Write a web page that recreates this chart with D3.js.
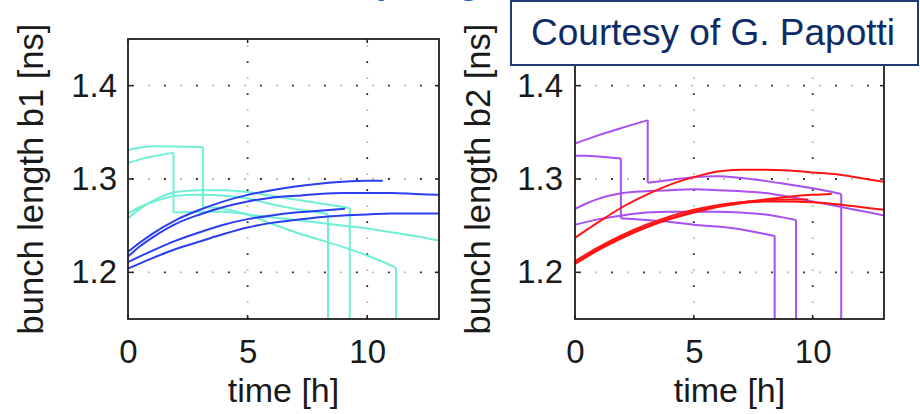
<!DOCTYPE html>
<html>
<head>
<meta charset="utf-8">
<script src="https://cdn.jsdelivr.net/npm/d3@7"></script>
<style>
  html, body { margin: 0; padding: 0; background: #fff; }
  svg { display: block; }
  text { font-family: "Liberation Sans", Arial, Helvetica, sans-serif; }
</style>
</head>
<body>
<svg id="chart" width="920" height="414"></svg>
<script>
// ---------- data (time [h], bunch length [ns]) ----------
const xTicks = [0, 5, 10];
const yTicks = [1.2, 1.3, 1.4];
const xDomain = [0, 13];
const yDomain = [1.15, 1.45];

const b1Cyan = [
  [[0,1.331],[0.6,1.334],[1.2,1.335],[3.13,1.334],[3.13,1.270],[4,1.268],[5,1.262],[6,1.252],[7,1.243],[8,1.235],[9,1.227],[10,1.218],[11.2,1.205],[11.2,1.10]],
  [[0,1.317],[0.5,1.321],[1,1.324],[1.9,1.328],[1.9,1.264],[3,1.265],[4,1.265],[5,1.262],[6,1.259],[7,1.256],[8,1.253],[9,1.250],[10,1.247],[11,1.243],[12,1.239],[13,1.234]],
  [[0,1.258],[0.5,1.268],[1,1.276],[1.5,1.282],[2,1.286],[3,1.288],[4,1.288],[5,1.286],[6,1.282],[7,1.278],[8,1.274],[9,1.270],[9.27,1.269],[9.27,1.10]],
  [[0,1.263],[0.5,1.270],[1,1.275],[1.5,1.279],[2,1.282],[3,1.283],[4,1.282],[5,1.279],[6,1.273],[7,1.268],[8,1.264],[8.36,1.262],[8.36,1.10]]
];
const b1Blue = [
  [[0,1.222],[0.5,1.232],[1,1.241],[2,1.256],[3,1.267],[4,1.276],[5,1.283],[6,1.288],[7,1.292],[8,1.295],[9,1.297],[10,1.298],[10.65,1.298]],
  [[0,1.217],[0.5,1.228],[1,1.237],[2,1.252],[3,1.262],[4,1.270],[5,1.276],[6,1.280],[7,1.282],[8,1.284],[9,1.285],[10,1.285],[11,1.285],[12,1.284],[13,1.283]],
  [[0,1.211],[1,1.223],[2,1.234],[3,1.243],[4,1.251],[5,1.257],[6,1.261],[7,1.264],[8,1.266],[9.07,1.268]],
  [[0,1.204],[1,1.215],[2,1.225],[3,1.233],[4,1.241],[5,1.248],[6,1.253],[7,1.256],[8,1.259],[9,1.261],[10,1.262],[11,1.263],[12,1.263],[13,1.263]]
];
const b2Purple = [
  [[0,1.338],[1,1.347],[2,1.355],[3.06,1.363],[3.06,1.296],[4,1.299],[5,1.302],[6,1.303],[7,1.301],[8,1.298],[9,1.294],[10,1.290],[11.2,1.284],[11.2,1.10]],
  [[0,1.325],[0.5,1.325],[1,1.324],[1.93,1.322],[1.93,1.258],[3,1.256],[4,1.254],[5,1.251],[6,1.249],[7,1.246],[8,1.241],[8.4,1.239],[8.4,1.10]],
  [[0,1.268],[0.5,1.274],[1,1.279],[2,1.285],[3,1.287],[4,1.288],[5,1.289],[6,1.288],[7,1.287],[8,1.285],[9,1.281],[10,1.276],[11,1.271],[12,1.266],[13,1.261]],
  [[0,1.251],[1,1.257],[2,1.261],[3,1.264],[4,1.265],[5,1.265],[6,1.265],[7,1.264],[8,1.262],[9.3,1.256],[9.3,1.10]]
];
const b2Red = [
  [[0,1.237],[1,1.254],[2,1.270],[3,1.283],[4,1.294],[5,1.302],[6,1.308],[7,1.310],[8,1.310],[9,1.309],[10,1.307],[11,1.305],[12,1.301],[13,1.297]],
  [[0,1.210],[1,1.225],[2,1.238],[3,1.249],[4,1.258],[5,1.265],[6,1.271],[7,1.275],[8,1.278],[9,1.281],[10,1.283],[10.8,1.284]],
  [[0,1.209],[1,1.224],[2,1.237],[3,1.248],[4,1.257],[5,1.264],[6,1.270],[7,1.274],[8,1.276],[9,1.276],[10,1.275],[11,1.273],[12,1.270],[13,1.267]],
  [[0,1.212],[1,1.227],[2,1.240],[3,1.251],[4,1.260],[5,1.267],[6,1.272],[7,1.275],[8,1.277],[9,1.278],[9.8,1.278]]
];
const yLabels = ["bunch length b1 [ns]", "bunch length b2 [ns]"];
const xLabel = "time [h]";
const courtesy = "Courtesy of G. Papotti";

// ---------- layout ----------
const svg = d3.select("#chart");
const plotTop = 39, plotBottom = 319;
const panels = [
  { left: 128, right: 439, label: yLabels[0], labelX: 43, pad: 11,
    groups: [{ data: b1Cyan, color: "#6ff0d6" }, { data: b1Blue, color: "#2a3ef0" }] },
  { left: 575, right: 884, label: yLabels[1], labelX: 490, pad: 12,
    groups: [{ data: b2Purple, color: "#a94ff2" }, { data: b2Red, color: "#ff1414" }] }
];

function splitRuns(pts) {
  const runs = [], drops = [];
  let cur = [pts[0]];
  for (let i = 1; i < pts.length; i++) {
    if (pts[i][0] === pts[i-1][0]) {
      drops.push([pts[i-1], pts[i]]);
      if (cur.length > 1) runs.push(cur);
      cur = [pts[i]];
    } else cur.push(pts[i]);
  }
  if (cur.length > 1) runs.push(cur);
  return { runs, drops };
}

panels.forEach((p, pi) => {
  const x = d3.scaleLinear().domain(xDomain).range([p.left, p.right]);
  const y = d3.scaleLinear().domain(yDomain).range([plotBottom, plotTop]);
  const g = svg.append("g");

  // grid (dotted, alternating dark / light dots)
  const gridStyles = [
    { c: "#222", off: 0 }, { c: "#b8b8b8", off: 16 }
  ];
  gridStyles.forEach(s => {
    g.selectAll(null).data(yTicks).enter().append("line")
      .attr("x1", p.left).attr("x2", p.right)
      .attr("y1", d => y(d)).attr("y2", d => y(d))
      .attr("stroke", s.c).attr("stroke-width", 1.8)
      .attr("stroke-dasharray", "1.8,30.2").attr("stroke-dashoffset", -4 - s.off);
    g.selectAll(null).data(xTicks.filter(d => d > 0)).enter().append("line")
      .attr("x1", d => x(d)).attr("x2", d => x(d))
      .attr("y1", plotBottom).attr("y2", plotTop)
      .attr("stroke", s.c).attr("stroke-width", 1.8)
      .attr("stroke-dasharray", "1.8,30.2").attr("stroke-dashoffset", -s.off);
  });

  // data lines
  const clipId = "clip" + pi;
  svg.append("clipPath").attr("id", clipId).append("rect")
    .attr("x", p.left).attr("y", plotTop).attr("width", p.right - p.left).attr("height", plotBottom - plotTop);
  const dg = g.append("g").attr("clip-path", `url(#${clipId})`);
  const line = d3.line().x(d => x(d[0])).y(d => y(d[1])).curve(d3.curveMonotoneX);
  const straight = d3.line().x(d => x(d[0])).y(d => y(d[1]));
  p.groups.forEach(grp => {
    grp.data.forEach(series => {
      const { runs, drops } = splitRuns(series);
      runs.forEach(r => dg.append("path").attr("d", line(r))
        .attr("fill", "none").attr("stroke", grp.color).attr("stroke-width", 2)
        .attr("stroke-linejoin", "round"));
      drops.forEach(dr => dg.append("path").attr("d", straight(dr))
        .attr("fill", "none").attr("stroke", grp.color).attr("stroke-width", 2));
    });
  });

  // inner tick marks
  const tl = 4;
  yTicks.forEach(v => {
    g.append("line").attr("x1", p.left).attr("x2", p.left + tl).attr("y1", y(v)).attr("y2", y(v)).attr("stroke", "#222").attr("stroke-width", 1.5);
    g.append("line").attr("x1", p.right).attr("x2", p.right - tl).attr("y1", y(v)).attr("y2", y(v)).attr("stroke", "#222").attr("stroke-width", 1.5);
  });
  xTicks.forEach(v => {
    g.append("line").attr("x1", x(v)).attr("x2", x(v)).attr("y1", plotBottom).attr("y2", plotBottom - tl).attr("stroke", "#222").attr("stroke-width", 1.5);
    g.append("line").attr("x1", x(v)).attr("x2", x(v)).attr("y1", plotTop).attr("y2", plotTop + tl).attr("stroke", "#222").attr("stroke-width", 1.5);
  });

  // frame
  g.append("rect").attr("x", p.left).attr("y", plotTop)
    .attr("width", p.right - p.left).attr("height", plotBottom - plotTop)
    .attr("fill", "none").attr("stroke", "#1e1e1e").attr("stroke-width", 1.8);

  // axes (labels only)
  const xa = g.append("g").attr("transform", `translate(0,${plotBottom})`)
    .call(d3.axisBottom(x).tickValues(xTicks).tickSize(0).tickPadding(21));
  const ya = g.append("g").attr("transform", `translate(${p.left},0)`)
    .call(d3.axisLeft(y).tickValues(yTicks).tickFormat(d3.format(".1f")).tickSize(0).tickPadding(p.pad));
  [xa, ya].forEach(a => {
    a.select(".domain").remove();
    a.selectAll("text").attr("font-size", 33).attr("fill", "#1a1a1a")
      .attr("font-family", "'Liberation Sans', Arial, sans-serif");
  });

  // axis titles
  g.append("text").attr("x", (p.left + p.right) / 2).attr("y", 402)
    .attr("text-anchor", "middle").attr("font-size", 34).attr("fill", "#1a1a1a").text(xLabel);
  g.append("text").attr("transform", `translate(${p.labelX},${(plotTop + plotBottom) / 2}) rotate(-90)`)
    .attr("text-anchor", "middle").attr("font-size", 34.5).attr("fill", "#1a1a1a").text(p.label);
});

// partially visible title above (cut off by the page edge, as in the source)
svg.append("text").attr("x", 372).attr("y", -7).attr("font-size", 36).attr("font-weight", "bold")
  .attr("fill", "#1a64c0").text("(using");

// courtesy box
svg.append("rect").attr("x", 511).attr("y", 1).attr("width", 407).attr("height", 64)
  .attr("fill", "#fff").attr("stroke", "#1f3b73").attr("stroke-width", 2);
svg.append("text").attr("x", 531).attr("y", 45).attr("font-size", 37)
  .attr("fill", "#0d2b66").text(courtesy);
</script>
</body>
</html>
